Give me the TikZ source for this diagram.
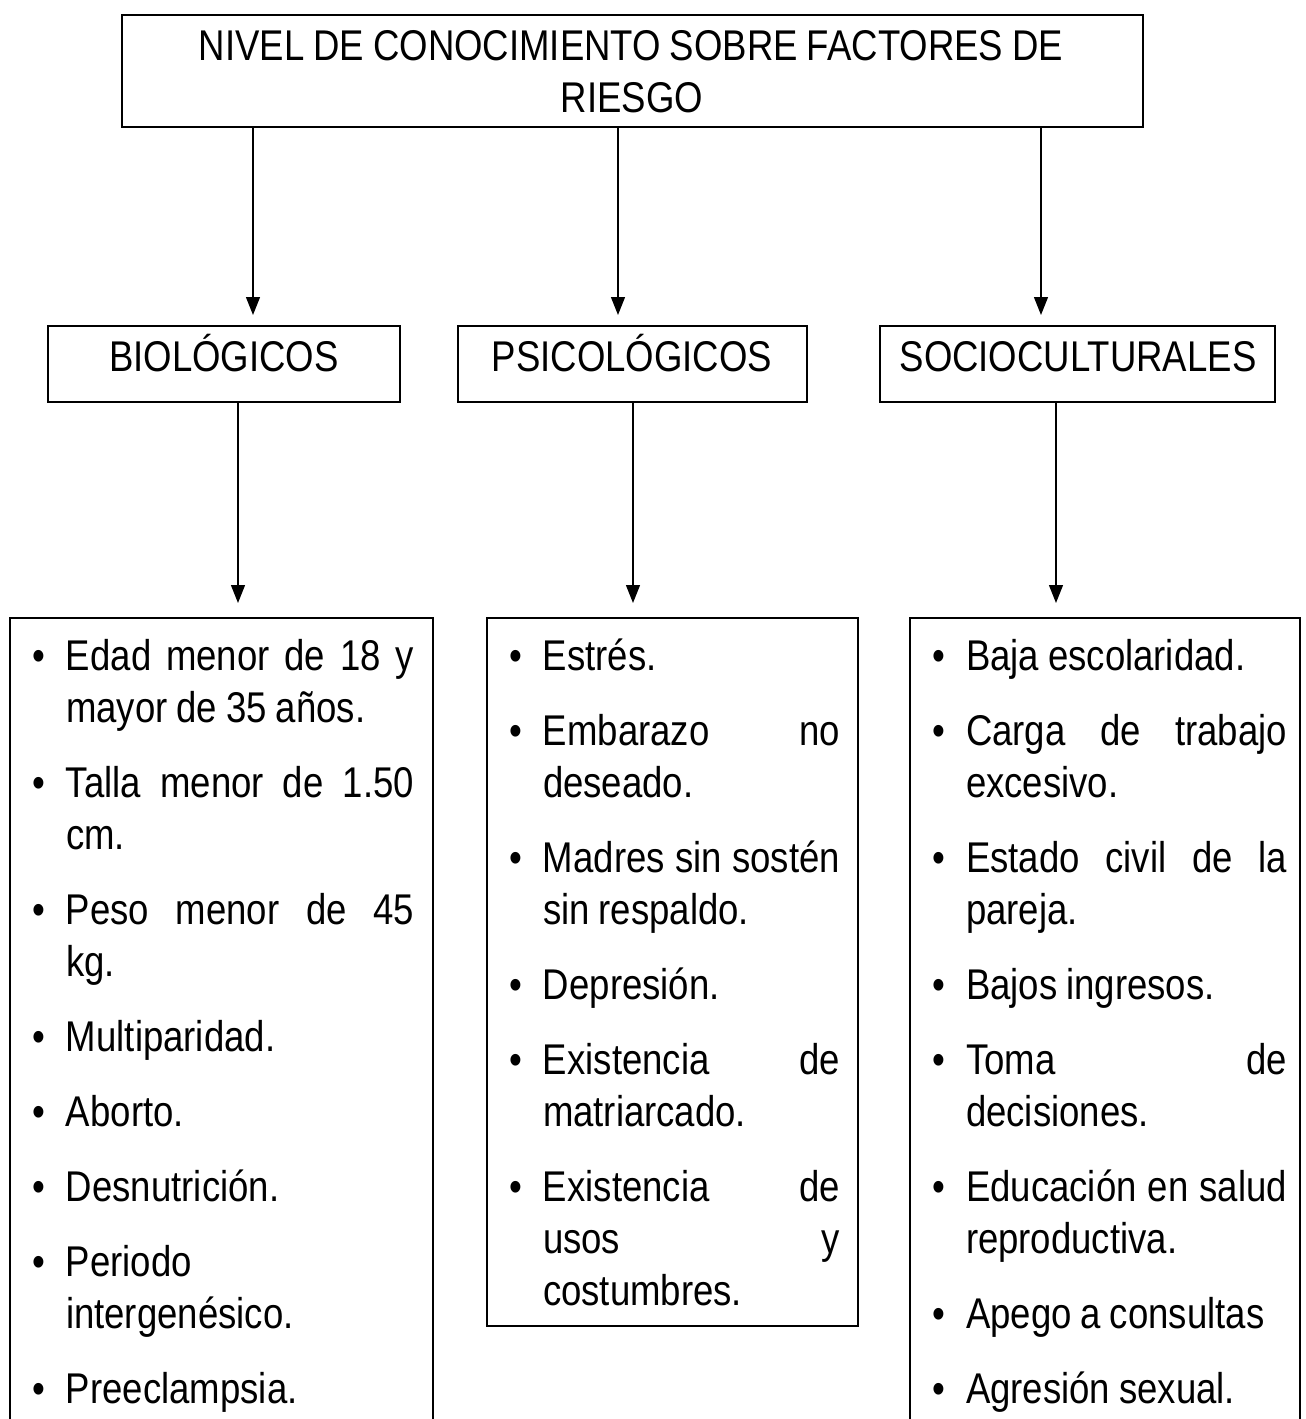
\documentclass[tikz,border=0pt]{standalone}
\usepackage{fontspec}
\setmainfont{Liberation Sans}[FakeStretch=0.85]
\usetikzlibrary{arrows.meta}
\newcommand{\s}{\hskip 9pt plus 3pt minus 3pt\relax}
\newcommand{\jl}[2]{\makebox[#1][s]{#2}}
\newcommand{\bul}{\leavevmode\llap{\makebox[34pt][l]{•}}}
\newcommand{\bigtxt}{\fontsize{43}{52}\selectfont}
\begin{document}
\begin{tikzpicture}[x=1pt,y=-1pt,
  every node/.style={inner sep=0pt,outer sep=0pt},
  topbox/.style={draw,line width=2pt,anchor=north west},
  midbox/.style={draw,line width=1.8pt,anchor=north west},
  lowbox/.style={draw,line width=1.3pt,anchor=north west},
  conn/.style={line width=1.3pt,-{Triangle[length=18pt,width=14pt]}},
  big/.style={font=\bigtxt},
  col/.style={big,anchor=base west,execute at begin node={\setlength{\parskip}{23pt}}}]
\useasboundingbox (0,0) rectangle (1306,1419);
\clip (0,0) rectangle (1306,1419);
% boxes
\node[topbox,minimum width=1021pt,minimum height=112pt] (top) at (122,15) {};
\node[midbox,minimum width=352pt,minimum height=76pt] (bio) at (48,326) {};
\node[midbox,minimum width=349pt,minimum height=76pt] (psi) at (458,326) {};
\node[midbox,minimum width=395pt,minimum height=76pt] (soc) at (880,326) {};
\node[lowbox,minimum width=423pt,minimum height=830pt] (lbio) at (10,618) {};
\node[lowbox,minimum width=371pt,minimum height=708pt] (lpsi) at (487,618) {};
\node[lowbox,minimum width=390pt,minimum height=830pt] (lsoc) at (910,618) {};
% texts
\node[big,anchor=base] (title) at (631,60)
  {NIVEL\s DE\s CONOCIMIENTO\s SOBRE\s FACTORES\s DE};
\node[big,anchor=base] (title2) at (632,112) {RIESGO};
\node[big,anchor=base] (tbio) at (224,371) {BIOLÓGICOS};
\node[big,anchor=base] (tpsi) at (632,371) {PSICOLÓGICOS};
\node[big,anchor=base] (tsoc) at (1078,371) {SOCIOCULTURALES};
\node[col,text width=348pt] (cbio) at (66,670) {%
\bul\jl{348pt}{Edad\s menor\s de\s 18\s y}\\ mayor\s de\s 35\s años.\par
\bul\jl{348pt}{Talla\s menor\s de\s 1.50}\\ cm.\par
\bul\jl{348pt}{Peso\s menor\s de\s 45}\\ kg.\par
\bul Multiparidad.\par
\bul Aborto.\par
\bul Desnutrición.\par
\bul Periodo\\ intergenésico.\par
\bul Preeclampsia.};
\node[col,text width=297pt] (cpsi) at (543,670) {%
\bul Estrés.\par
\bul\jl{297pt}{Embarazo\s no}\\ deseado.\par
\bul\jl{297pt}{Madres\s sin\s sostén}\\ sin\s respaldo.\par
\bul Depresión.\par
\bul\jl{297pt}{Existencia\s de}\\ matriarcado.\par
\bul\jl{297pt}{Existencia\s de}\\ \jl{297pt}{usos\s y}\\ costumbres.};
\node[col,text width=321pt] (csoc) at (966,670) {%
\bul Baja\s escolaridad.\par
\bul\jl{321pt}{Carga\s de\s trabajo}\\ excesivo.\par
\bul\jl{321pt}{Estado\s civil\s de\s la}\\ pareja.\par
\bul Bajos\s ingresos.\par
\bul\jl{321pt}{Toma\s de}\\ decisiones.\par
\bul\jl{321pt}{Educación\s en\s salud}\\ reproductiva.\par
\bul Apego\s a\s consultas\par
\bul Agresión\s sexual.};
% connector columns
\coordinate (x1) at (253,0);
\coordinate (x2) at (618,0);
\coordinate (x3) at (1041,0);
\coordinate (x4) at (238,0);
\coordinate (x5) at (633,0);
\coordinate (x6) at (1056,0);
\draw[conn,shorten >=11pt] (top.south -| x1) -- (bio.north -| x1);
\draw[conn,shorten >=11pt] (top.south -| x2) -- (psi.north -| x2);
\draw[conn,shorten >=11pt] (top.south -| x3) -- (soc.north -| x3);
\draw[conn,shorten >=15pt] (bio.south -| x4) -- (lbio.north -| x4);
\draw[conn,shorten >=15pt] (psi.south -| x5) -- (lpsi.north -| x5);
\draw[conn,shorten >=15pt] (soc.south -| x6) -- (lsoc.north -| x6);
\end{tikzpicture}
\end{document}
